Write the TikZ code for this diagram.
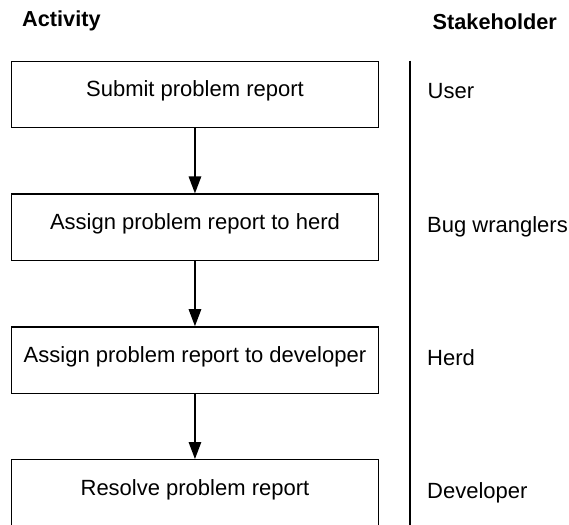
\documentclass[tikz,border=0pt]{standalone}
\usepackage{fontspec}
\setmainfont{Liberation Sans}
\usetikzlibrary{arrows.meta}
\begin{document}
\begin{tikzpicture}[x=1pt,y=-1pt,
  font=\fontsize{22}{26}\selectfont,
  activity/.style={draw, line width=1.4pt, minimum width=366.5pt,
    minimum height=66.3pt, inner sep=0pt, anchor=north west,
    text height=12pt, text depth=7.3pt},
  header/.style={font=\fontsize{21.7}{26}\selectfont\bfseries,
    inner sep=0pt, anchor=base west},
  role/.style={inner sep=0pt, anchor=base west},
  flow/.style={line width=1.4pt, -{Triangle[width=12.5pt,length=17pt]}}]
  \useasboundingbox (0,0) rectangle (569,524);

  % column headings
  \node[header] (hact) at (22,26.7) {Activity};
  \node[header] (hstk) at (432.5,30) {Stakeholder};

  % activities
  \node[activity] (a1) at (11,60.7)  {Submit problem report};
  \node[activity] (a2) at (11,193.4) {Assign problem report to herd};
  \node[activity] (a3) at (11,326.2) {Assign problem report to developer};
  \node[activity] (a4) at (11,459)   {Resolve problem report};

  \draw[flow] (a1.south) -- (a2.north);
  \draw[flow] (a2.south) -- (a3.north);
  \draw[flow] (a3.south) -- (a4.north);

  % separator between the two columns
  \coordinate (stop) at (410,60.7);
  \coordinate (sbot) at (410,530);
  \draw[line width=1.4pt] (stop) -- (sbot);

  % stakeholders
  \node[role] (s1) at (427.5,99)  {User};
  \node[role] (s2) at (427,232.8) {Bug wranglers};
  \node[role] (s3) at (427,365.5) {Herd};
  \node[role] (s4) at (427,498)   {Developer};
\end{tikzpicture}
\end{document}
